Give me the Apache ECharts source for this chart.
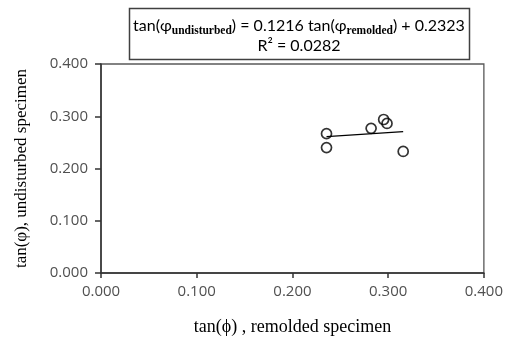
<!DOCTYPE html>
<html><head><meta charset="utf-8">
<script src="https://cdn.jsdelivr.net/npm/echarts@6/dist/echarts.min.js"></script>
<style>html,body{margin:0;padding:0;background:#fff}#c{width:506px;height:341px}</style>
</head><body><div id="c"></div>
<script>
var remolded = [0.2356, 0.2356, 0.2822, 0.2953, 0.2988, 0.3157];
var undisturbed = [0.2667, 0.2400, 0.2768, 0.2938, 0.2862, 0.2326];
var trendX = [0.2356, 0.3157];
var trendY = [0.2610, 0.2707];
var xTicks = ['0.000','0.100','0.200','0.300','0.400'];
var yTicks = ['0.000','0.100','0.200','0.300','0.400'];
var xTitle = 'tan(\u03D5) , remolded specimen';
var yTitle = 'tan(\u03C6), undisturbed specimen';
var eqMain1 = 'tan(\u03C6', eqSub1 = 'undisturbed', eqMain2 = ') = 0.1216 tan(\u03C6', eqSub2 = 'remolded', eqMain3 = ') + 0.2323';
var r2Text = 'R\u00B2 = 0.0282';

var pts = remolded.map(function(x,i){return [x, undisturbed[i]];});
var trend = trendX.map(function(x,i){return [x, trendY[i]];});
var chart = echarts.init(document.getElementById('c'), null, {renderer:'canvas'});
var lblFont = {color:'#505050', fontFamily:'Open Sans', fontSize:15};
chart.setOption({
  animation:false,
  grid:{left:101, top:64, right:19, bottom:66, show:true, borderColor:'#595959', borderWidth:1.3},
  xAxis:{type:'value', min:0, max:0.4, interval:0.1,
    axisLine:{show:true, onZero:false, lineStyle:{color:'#333', width:1.5}},
    axisTick:{show:true, inside:false, length:5, lineStyle:{color:'#333', width:1.5}},
    splitLine:{show:false},
    axisLabel:Object.assign({margin:11, formatter:function(v){return xTicks[Math.round(v*10)];}}, lblFont),
    name:xTitle, nameLocation:'middle', nameGap:45,
    nameTextStyle:{fontFamily:'Liberation Serif', fontSize:18, color:'#000'}},
  yAxis:{type:'value', min:0, max:0.4, interval:0.1,
    axisLine:{show:true, onZero:false, lineStyle:{color:'#333', width:1.5}},
    axisTick:{show:true, inside:false, length:6, lineStyle:{color:'#333', width:1.5}},
    splitLine:{show:false},
    axisLabel:Object.assign({margin:13, formatter:function(v){return yTicks[Math.round(v*10)];}}, lblFont),
    name:yTitle, nameLocation:'middle', nameGap:71,
    nameTextStyle:{fontFamily:'Liberation Serif', fontSize:17, color:'#000'}},
  graphic:[
    {type:'rect', shape:{x:129.5, y:8.5, width:340, height:51},
     style:{fill:'#fff', stroke:'#404040', lineWidth:1.5}, z:10},
    {type:'text', x:299, y:26, z:11,
     style:{text:'{m|'+eqMain1+'}{s|'+eqSub1+'}{m|'+eqMain2+'}{s|'+eqSub2+'}{m|'+eqMain3+'}',
       align:'center', verticalAlign:'middle',
       rich:{m:{fontFamily:'Lato', fontSize:16, color:'#000', lineHeight:22, verticalAlign:'middle'},
             s:{fontFamily:'Liberation Serif', fontSize:11.5, fontWeight:'bold', color:'#000', lineHeight:22, verticalAlign:'bottom'}}}},
    {type:'text', x:299, y:46, z:11,
     style:{text:r2Text, align:'center', verticalAlign:'middle', fontFamily:'Lato', fontSize:16, fill:'#000'}}
  ],
  series:[
    {type:'line', data:trend, symbol:'none', lineStyle:{color:'#000', width:1.3}, z:2},
    {type:'scatter', data:pts, symbol:'circle', symbolSize:10,
     itemStyle:{color:'rgba(255,255,255,0)', borderColor:'#000', borderWidth:1.7}, z:3}
  ]
});
</script></body></html>
